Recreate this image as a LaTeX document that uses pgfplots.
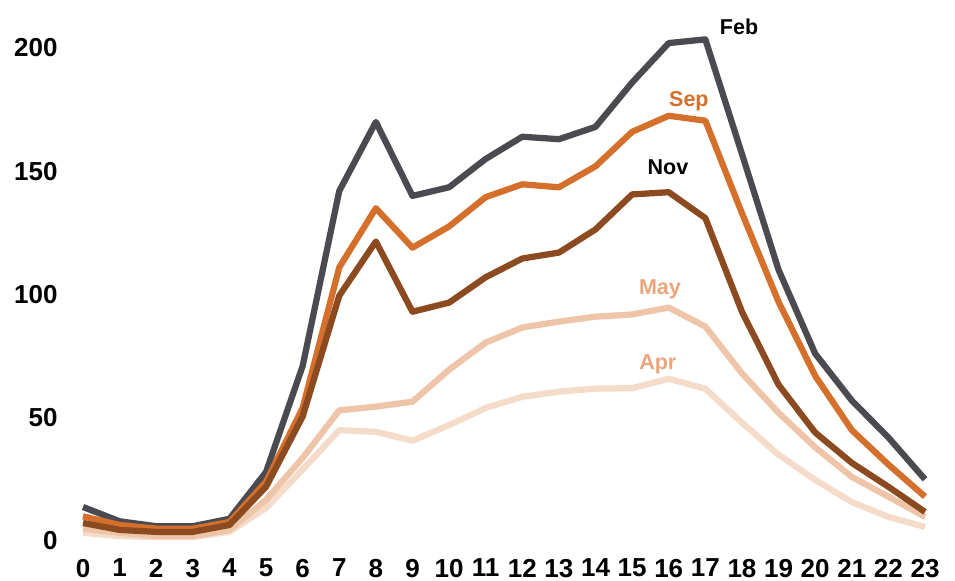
\documentclass[border=0pt]{standalone}
\usepackage{pgfplots}
\pgfplotsset{compat=1.18}
\usepackage{fontspec}
\setmainfont{Liberation Sans}
\definecolor{cfeb}{HTML}{4A4B50}
\definecolor{csep}{HTML}{D4702C}
\definecolor{cnov}{HTML}{8B4A1F}
\definecolor{cmay}{HTML}{EFC5A9}
\definecolor{capr}{HTML}{F5DBC9}
\definecolor{ctxt}{HTML}{EBA57C}
\tikzset{
  ln/.style={line width=2.5pt,line join=round},
  mlbl/.style={font=\fontsize{8.6}{10}\selectfont\bfseries,anchor=base,inner sep=0pt},
}
\begin{document}
\begin{tikzpicture}
\begin{axis}[scale only axis, width=336.8pt, height=197.2pt,
  xmin=0, xmax=23, ymin=0, ymax=200, clip=false,
  axis line style={draw=none}, tick style={draw=none}, major tick length=0pt,
  xtick={0,...,23}, ytick={0,50,100,150,200},
  tick label style={font=\fontsize{10.4}{12}\selectfont\bfseries},
  /pgf/number format/assume math mode=true,
  yticklabel style={anchor=east,inner sep=0pt,xshift=-10pt},
  xticklabel style={anchor=north,inner sep=0pt,yshift=-7pt}]
\addplot[ln,capr] coordinates {(0,3.3) (1,2) (2,1.6) (3,1.6) (4,3.7) (5,13.4) (6,29) (7,45) (8,44.3) (9,40.7) (10,47) (11,54) (12,58.5) (13,60.6) (14,61.8) (15,62) (16,65.8) (17,61.8) (18,48) (19,35) (20,24.8) (21,15.8) (22,9.8) (23,5.7)};
\addplot[ln,cmay] coordinates {(0,5) (1,3.3) (2,2) (3,2) (4,4.5) (5,16.7) (6,33.7) (7,53) (8,54.5) (9,56.5) (10,69.5) (11,80.5) (12,86.6) (13,89) (14,91) (15,91.9) (16,94.7) (17,87) (18,68) (19,52) (20,38) (21,26) (22,18) (23,9.8)};
\addplot[ln,cfeb] coordinates {(0,13.8) (1,8) (2,6) (3,6) (4,9) (5,28) (6,71) (7,142) (8,170) (9,140) (10,143.5) (11,155) (12,164) (13,163) (14,168) (15,186) (16,202) (17,203.5) (18,157) (19,110) (20,76) (21,57) (22,42) (23,25)};
\addplot[ln,csep] coordinates {(0,10) (1,6.5) (2,5) (3,5) (4,7.7) (5,24) (6,54) (7,111) (8,135) (9,119) (10,127.6) (11,139.5) (12,144.7) (13,143.5) (14,152) (15,166) (16,172.5) (17,170.5) (18,133) (19,97) (20,67) (21,45) (22,31) (23,18)};
\addplot[ln,cnov] coordinates {(0,7.3) (1,4.5) (2,3.7) (3,3.7) (4,6.5) (5,22) (6,50.5) (7,99.5) (8,121.5) (9,93) (10,96.7) (11,107) (12,114.6) (13,117) (14,126.4) (15,140.6) (16,141.5) (17,131) (18,93) (19,63.4) (20,44) (21,31.7) (22,22) (23,11.8)};
\node[mlbl,black] at (axis cs:17.92,205.5) {Feb};
\node[mlbl,csep] at (axis cs:16.55,176.4) {Sep};
\node[mlbl,black] at (axis cs:15.98,148.8) {Nov};
\node[mlbl,ctxt] at (axis cs:15.76,100) {May};
\node[mlbl,ctxt] at (axis cs:15.7,69.5) {Apr};
\end{axis}
\pgfresetboundingbox
\useasboundingbox (-33.2pt,-16pt) rectangle (348.8pt,216.4pt);
\end{tikzpicture}
\end{document}
